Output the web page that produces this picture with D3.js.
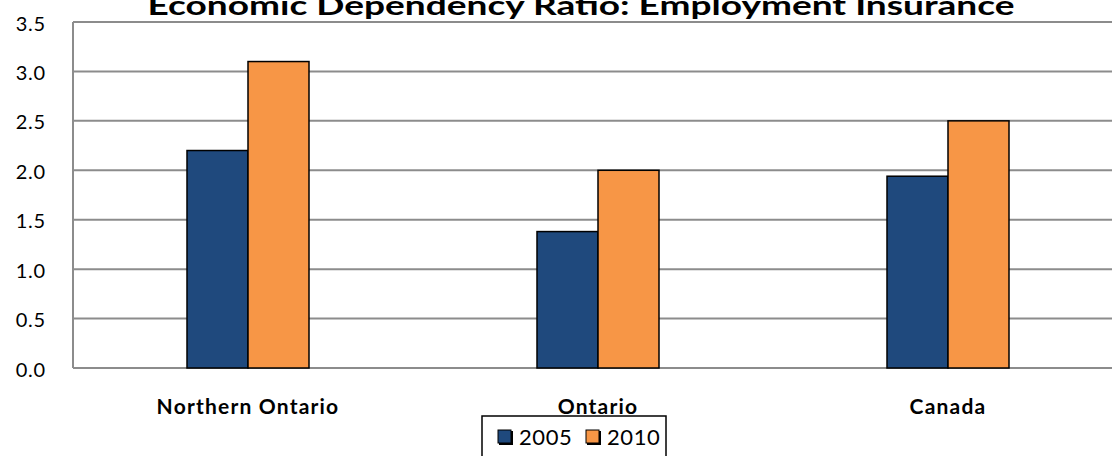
<!DOCTYPE html>
<html>
<head>
<meta charset="utf-8">
<script src="https://cdn.jsdelivr.net/npm/d3@7"></script>
<style>
  html, body { margin: 0; padding: 0; background: #fff; overflow: hidden; }
  svg { display: block; font-family: Lato, "Open Sans", sans-serif; }
</style>
</head>
<body>
<svg id="chart" width="1112" height="456"></svg>
<script>
const categories = ["Northern Ontario", "Ontario", "Canada"];
const seriesNames = ["2005", "2010"];
const values2005 = [2.2, 1.38, 1.94];
const values2010 = [3.1, 2.0, 2.5];
const yTicks = [0, 0.5, 1.0, 1.5, 2.0, 2.5, 3.0, 3.5];
const colors = ["#1F497D", "#F79646"];
const titleText = "Economic Dependency Ratio: Employment Insurance";

const svg = d3.select("#chart");
const plotLeft = 73, plotTop = 22, plotBottom = 368, plotRight = 1123;

const x = d3.scaleBand().domain(categories).range([plotLeft, plotRight]);
const xInner = d3.scaleBand().domain(seriesNames).range([0, 122]);
const y = d3.scaleLinear().domain([0, 3.5]).range([plotBottom, plotTop]);

// gridlines
svg.append("g").selectAll("line").data(yTicks).join("line")
  .attr("x1", plotLeft).attr("x2", plotRight)
  .attr("y1", d => y(d)).attr("y2", d => y(d))
  .attr("stroke", "#8c8c8c").attr("stroke-width", 2);

// left axis line
svg.append("line").attr("x1", plotLeft).attr("x2", plotLeft).attr("y1", plotTop).attr("y2", plotBottom)
  .attr("stroke", "#8c8c8c").attr("stroke-width", 2);

// y axis labels via d3 axis
const yAxis = svg.append("g").attr("transform", `translate(${plotLeft - 27},0)`)
  .call(d3.axisLeft(y).tickValues(yTicks).tickFormat(d3.format(".1f")).tickSize(0).tickPadding(0));
yAxis.select(".domain").remove();
yAxis.selectAll("text").attr("font-size", 20).attr("fill", "#000")
  .attr("letter-spacing", "0.8px")
  .attr("font-family", "Lato, 'Open Sans', sans-serif").attr("dy", "0.4em");

// bars
const data = categories.map((c, i) => ({ cat: c, vals: [values2005[i], values2010[i]] }));
const groups = svg.append("g").selectAll("g").data(data).join("g")
  .attr("transform", d => `translate(${x(d.cat) + x.bandwidth() / 2 - 61},0)`);
groups.selectAll("rect").data(d => d.vals.map((v, j) => ({ s: seriesNames[j], v, j }))).join("rect")
  .attr("x", d => xInner(d.s))
  .attr("width", xInner.bandwidth())
  .attr("y", d => y(d.v))
  .attr("height", d => y(0) - y(d.v))
  .attr("fill", d => colors[d.j])
  .attr("stroke", "#000").attr("stroke-width", 1.5);

// category labels
svg.append("g").selectAll("text").data(categories).join("text")
  .attr("x", d => x(d) + x.bandwidth() / 2)
  .attr("y", 414)
  .attr("text-anchor", "middle")
  .attr("font-size", 21).attr("font-weight", "bold").attr("fill", "#000")
  .attr("letter-spacing", "1.2px")
  .text(d => d);

// title
svg.append("text").attr("x", 581).attr("y", 15)
  .attr("text-anchor", "middle").attr("font-size", 27).attr("font-weight", "bold")
  .attr("textLength", 867).attr("lengthAdjust", "spacingAndGlyphs")
  .text(titleText);

// legend
const lg = svg.append("g");
lg.append("rect").attr("x", 482).attr("y", 416).attr("width", 184).attr("height", 50)
  .attr("fill", "#fff").attr("stroke", "#000").attr("stroke-width", 1.5);
const legX = [498, 586];
seriesNames.forEach((s, i) => {
  lg.append("rect").attr("x", legX[i] + 1).attr("y", 431).attr("width", 14).attr("height", 14)
    .attr("fill", "#000");
  lg.append("rect").attr("x", legX[i]).attr("y", 430).attr("width", 13).attr("height", 13)
    .attr("fill", colors[i]).attr("stroke", "#000").attr("stroke-width", 1);
  lg.append("text").attr("x", legX[i] + 21).attr("y", 445)
    .attr("font-size", 22).attr("fill", "#000").attr("letter-spacing", "0.6px").text(s);
});
</script>
</body>
</html>
